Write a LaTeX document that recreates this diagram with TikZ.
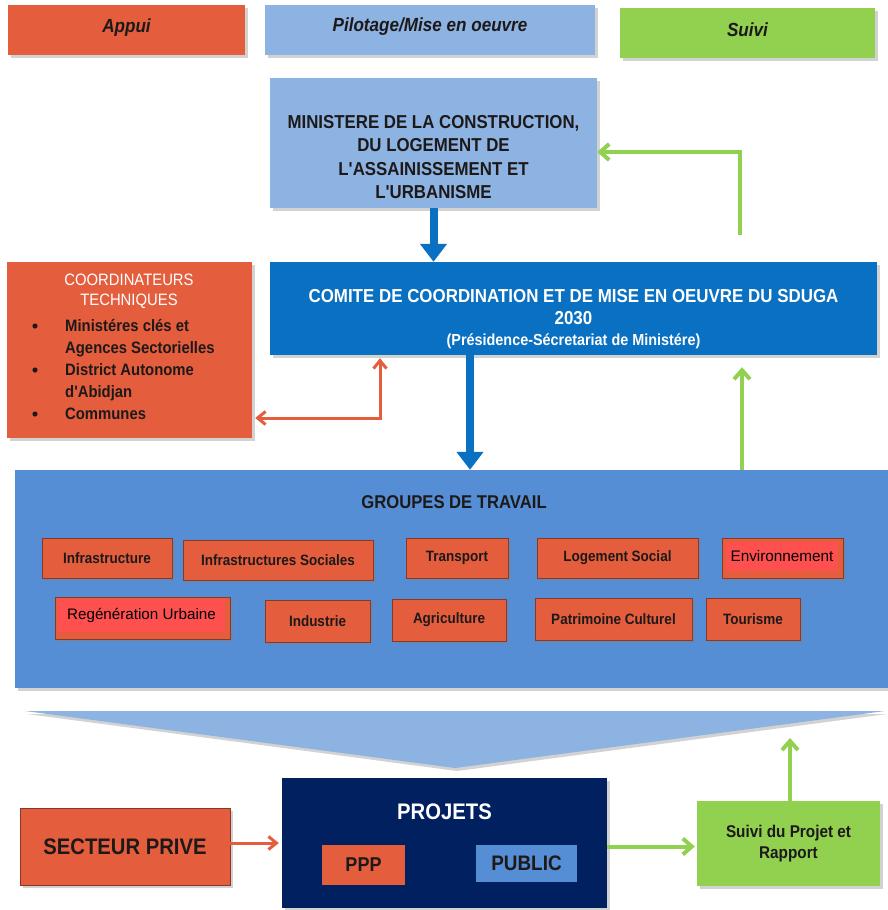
\documentclass[tikz,border=0pt]{standalone}
\usepackage{fontspec}
\setmainfont{Liberation Sans}
\newfontfamily\nb{Liberation Sans}[FakeStretch=0.9]
\usetikzlibrary{arrows.meta,shadows,calc}
\definecolor{cred}{RGB}{228,94,62}
\definecolor{clblue}{RGB}{141,179,226}
\definecolor{cgreen}{RGB}{146,208,80}
\definecolor{cblue}{RGB}{10,112,194}
\definecolor{cgrp}{RGB}{85,142,213}
\definecolor{cnavy}{RGB}{0,32,96}
\definecolor{cbright}{RGB}{255,80,80}
\definecolor{cdark}{RGB}{30,25,25}
\tikzset{
  box/.style={draw=none, inner sep=2pt, align=center,
    drop shadow={opacity=0.35, shadow xshift=3pt, shadow yshift=-3pt}},
  smallbox/.style={box, fill=cred, draw=black!40!cred, line width=0.8pt,
    font=\nb\bfseries\fontsize{15}{17}\selectfont, text=cdark},
  bluearrow/.style={draw=cblue, line width=8pt,
    -{Triangle[width=26pt,length=18pt]}},
  greenarrow/.style={draw=cgreen, line width=4pt,
    -{Straight Barb[width=16pt,length=9pt,line width=4pt]}},
  redarrow/.style={draw=cred, line width=3pt,
    {Straight Barb[width=13pt,length=8pt,line width=3pt]}-{Straight Barb[width=13pt,length=8pt,line width=3pt]}},
  redarrowone/.style={draw=cred, line width=3pt,
    -{Straight Barb[width=13pt,length=8pt,line width=3pt]}},
  label/.style={inner sep=0pt, align=center},
}
\begin{document}
\begin{tikzpicture}[x=1pt,y=-1pt]
\useasboundingbox[fill=white] (0,0) rectangle (888,910);

% header row
\node[box, fill=cred, minimum width=237pt, minimum height=50pt,
  font=\nb\bfseries\itshape\fontsize{19}{21}\selectfont, text=cdark] (appui) at (126.5,30) {\raisebox{8pt}{Appui}};
\node[box, fill=clblue, minimum width=330pt, minimum height=50pt,
  font=\nb\bfseries\itshape\fontsize{19}{21}\selectfont, text=cdark] (pilot) at (430,30) {\raisebox{10pt}{Pilotage/Mise en oeuvre}};
\node[box, fill=cgreen, minimum width=255pt, minimum height=50pt,
  font=\nb\bfseries\itshape\fontsize{19}{21}\selectfont, text=cdark] (suivi) at (747.5,33) {\raisebox{6pt}{Suivi}};

% ministere
\node[box, fill=clblue, minimum width=327pt, minimum height=130pt] (min) at (433.5,143) {};
\node[label, font=\nb\bfseries\fontsize{18.7}{23.5}\selectfont, text=cdark] (mint) at (433.5,157)
  {MINISTERE DE LA CONSTRUCTION,\\DU LOGEMENT DE\\L'ASSAINISSEMENT ET\\L'URBANISME};

% comite
\node[box, fill=cblue, minimum width=607pt, minimum height=93pt] (comite) at (573.5,308.5) {};
\node[label, font=\nb\bfseries\fontsize{18.8}{22}\selectfont, text=white] (comt) at (573.5,319)
  {COMITE DE COORDINATION ET DE MISE EN OEUVRE DU SDUGA\\2030\\[-0.5pt]
   {\nb\fontsize{16}{17}\selectfont (Présidence-Sécretariat de Ministére)}};

% coordinateurs
\node[box, fill=cred, minimum width=245pt, minimum height=176pt] (coord) at (129.5,350) {};
\node[label, font=\nb\fontsize{16.5}{20}\selectfont, text=white] (coordt) at (129,291)
  {COORDINATEURS\\TECHNIQUES};
\node[font=\nb\bfseries\fontsize{16.5}{22}\selectfont, text=cdark, align=left, anchor=north west, inner sep=0pt] (coordl) at (65,319)
  {Ministéres clés et\\Agences Sectorielles\\District Autonome\\d'Abidjan\\Communes};
\foreach \yy in {326,370,414}
  \fill[cdark] (35,\yy) circle (2.6pt);

% groupes de travail
\node[box, fill=cgrp, minimum width=873pt, minimum height=218pt] (groupes) at (451.5,579) {};
\node[label, font=\nb\bfseries\fontsize{18.5}{20}\selectfont, text=cdark] (gtitle) at (454,502) {GROUPES DE TRAVAIL};

\node[smallbox, minimum width=130pt, minimum height=40pt] (g1) at (107,558) {Infrastructure};
\node[smallbox, minimum width=190pt, minimum height=40pt] (g2) at (278,560) {Infrastructures Sociales};
\node[smallbox, minimum width=102pt, minimum height=40pt] (g3) at (457,558) {Transport};
\node[smallbox, minimum width=161pt, minimum height=40pt] (g4) at (617.5,558) {Logement Social};
\node[smallbox, minimum width=121pt, minimum height=40pt] (g5) at (782.5,558) {};
\node[fill=cbright, minimum width=112pt, minimum height=29pt, inner sep=0pt,
  font=\fontsize{15.3}{17}\selectfont, text=black] (g5t) at (782,556) {Environnement};

\node[smallbox, minimum width=175pt, minimum height=42pt] (h1) at (142.5,618) {};
\node[fill=cbright, minimum width=167pt, minimum height=33pt, inner sep=0pt,
  font=\fontsize{15.2}{17}\selectfont, text=black] (h1t) at (141.5,615) {Regénération Urbaine};
\node[smallbox, minimum width=105pt, minimum height=42pt] (h2) at (317.5,621) {Industrie};
\node[smallbox, minimum width=114pt, minimum height=42pt] (h3) at (449,620) {Agriculture};
\node[smallbox, minimum width=157pt, minimum height=42pt] (h4) at (613.5,619) {Patrimoine Culturel};
\node[smallbox, minimum width=94pt, minimum height=42pt] (h5) at (753,619) {Tourisme};

% big chevron
\fill[clblue, drop shadow={opacity=0.35, shadow xshift=2pt, shadow yshift=-3pt}]
  (25,711) -- (885,711) -- (455,768) -- cycle;

% projets
\node[box, fill=cnavy, minimum width=325pt, minimum height=130pt] (projets) at (444.5,843) {};
\node[label, font=\nb\bfseries\fontsize{22.5}{24}\selectfont, text=white] (projt) at (444.5,812) {PROJETS};
\node[fill=cred, minimum width=83pt, minimum height=40pt, inner sep=0pt,
  font=\nb\bfseries\fontsize{20}{22}\selectfont, text=cdark] (ppp) at (363.5,865) {PPP};
\node[fill=cgrp, minimum width=101pt, minimum height=37pt, inner sep=0pt,
  font=\nb\bfseries\fontsize{21}{22}\selectfont, text=cdark] (public) at (526.5,863.5) {PUBLIC};

\node[box, fill=cred, draw=black!40!cred, line width=0.8pt, minimum width=210pt, minimum height=77pt,
  font=\nb\bfseries\fontsize{22.5}{24}\selectfont, text=cdark] (secteur) at (125,846.5) {SECTEUR PRIVE};
\node[box, fill=cgreen, minimum width=183pt, minimum height=85pt,
  font=\nb\bfseries\fontsize{17}{21}\selectfont, text=cdark] (suivip) at (788.5,843.5) {Suivi du Projet et\\Rapport};

% connectors
\coordinate (bx2) at (470,0);
\coordinate (gtail1) at (740,235);
\coordinate (gturn1) at (740,152);
\coordinate (gx2) at (742,0);
\coordinate (rx) at (380,418);
\coordinate (gx4) at (790,738);

\draw[bluearrow] (min.south) -- (min.south |- comite.north);
\draw[bluearrow] (comite.south -| bx2) -- (groupes.north -| bx2);
\draw[greenarrow] (gtail1) -- (gturn1) -- (min.east |- gturn1);
\draw[greenarrow, shorten >=12pt] (groupes.north -| gx2) -- (comite.south -| gx2);
\draw[redarrow, shorten <=3pt, shorten >=3pt] (comite.south -| rx) -- (rx) -- (coord.east |- rx);
\draw[redarrowone, shorten >=3pt] (secteur.east |- projets.center) -- (projets.west |- projets.center);
\draw[greenarrow, shorten >=2pt] (projets.east |- secteur.center) -- (suivip.west |- secteur.center);
\draw[greenarrow] (suivip.north -| gx4) -- (gx4);
\end{tikzpicture}
\end{document}
